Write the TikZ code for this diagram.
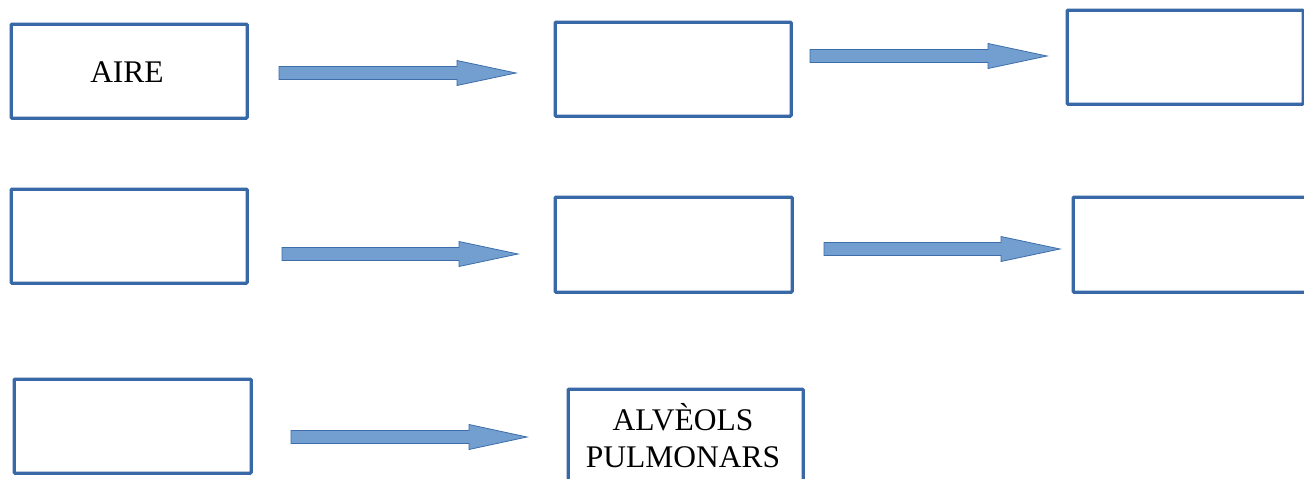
\documentclass[tikz,border=0pt]{standalone}
\usepackage{fontspec}
\setmainfont{Liberation Serif}
\definecolor{boxblue}{RGB}{56,104,166}
\definecolor{arrfill}{RGB}{114,159,207}
\definecolor{arredge}{RGB}{62,110,170}
\tikzset{
  pbox/.style={draw=boxblue, line width=3.3pt, rounded corners=1pt, fill=white, inner sep=0pt, anchor=north west,
    font=\fontsize{31.5}{37}\selectfont, align=center},
  barrow/.style={fill=arrfill, draw=arredge, line width=0.8pt},
}
\newcommand{\blockarr}[5]{% name, x1, x2, yc, headstart
  \path[barrow] (#2,#4-6.5) -- (#5,#4-6.5) -- (#5,#4-12.5) -- (#3,#4) -- (#5,#4+12.5) -- (#5,#4+6.5) -- (#2,#4+6.5) -- cycle;
  \coordinate (#1) at (#2,#4);
}
\begin{document}
\begin{tikzpicture}[x=1pt,y=-1pt]
\useasboundingbox (0,0) rectangle (1304,479);
\fill[white] (0,0) rectangle (1304,479);
% row 1
\node[pbox, minimum width=236pt, minimum height=94pt] (aire) at (9.5,22.5) {};
\node[font=\fontsize{31.5}{37}\selectfont] (airet) at (127,72) {AIRE};
\node[pbox, minimum width=236pt, minimum height=94pt] (b2) at (553.5,20.5) {};
\node[pbox, minimum width=236pt, minimum height=94pt] (b3) at (1065.5,8.5) {};
\blockarr{a1}{279}{516}{73}{457}
\blockarr{a2}{810}{1047}{56}{988}
% row 2
\node[pbox, minimum width=236pt, minimum height=94pt] (b4) at (9.5,187.5) {};
\node[pbox, minimum width=237pt, minimum height=95pt] (b5) at (553.5,195.5) {};
\node[pbox, minimum width=240pt, minimum height=95pt] (b6) at (1071.5,195.5) {};
\blockarr{a3}{282}{518}{254}{459}
\blockarr{a4}{824}{1060}{249}{1001}
% row 3
\node[pbox, minimum width=237pt, minimum height=94pt] (b7) at (12.5,377.5) {};
\node[pbox, minimum width=235pt, minimum height=100pt] (alv) at (566.5,387.5) {};
\node[font=\fontsize{31.5}{37}\selectfont, align=center] (alvt) at (683,436) {ALVÈOLS\\PULMONARS};
\blockarr{a5}{291}{527}{437}{469}
\end{tikzpicture}
\end{document}
